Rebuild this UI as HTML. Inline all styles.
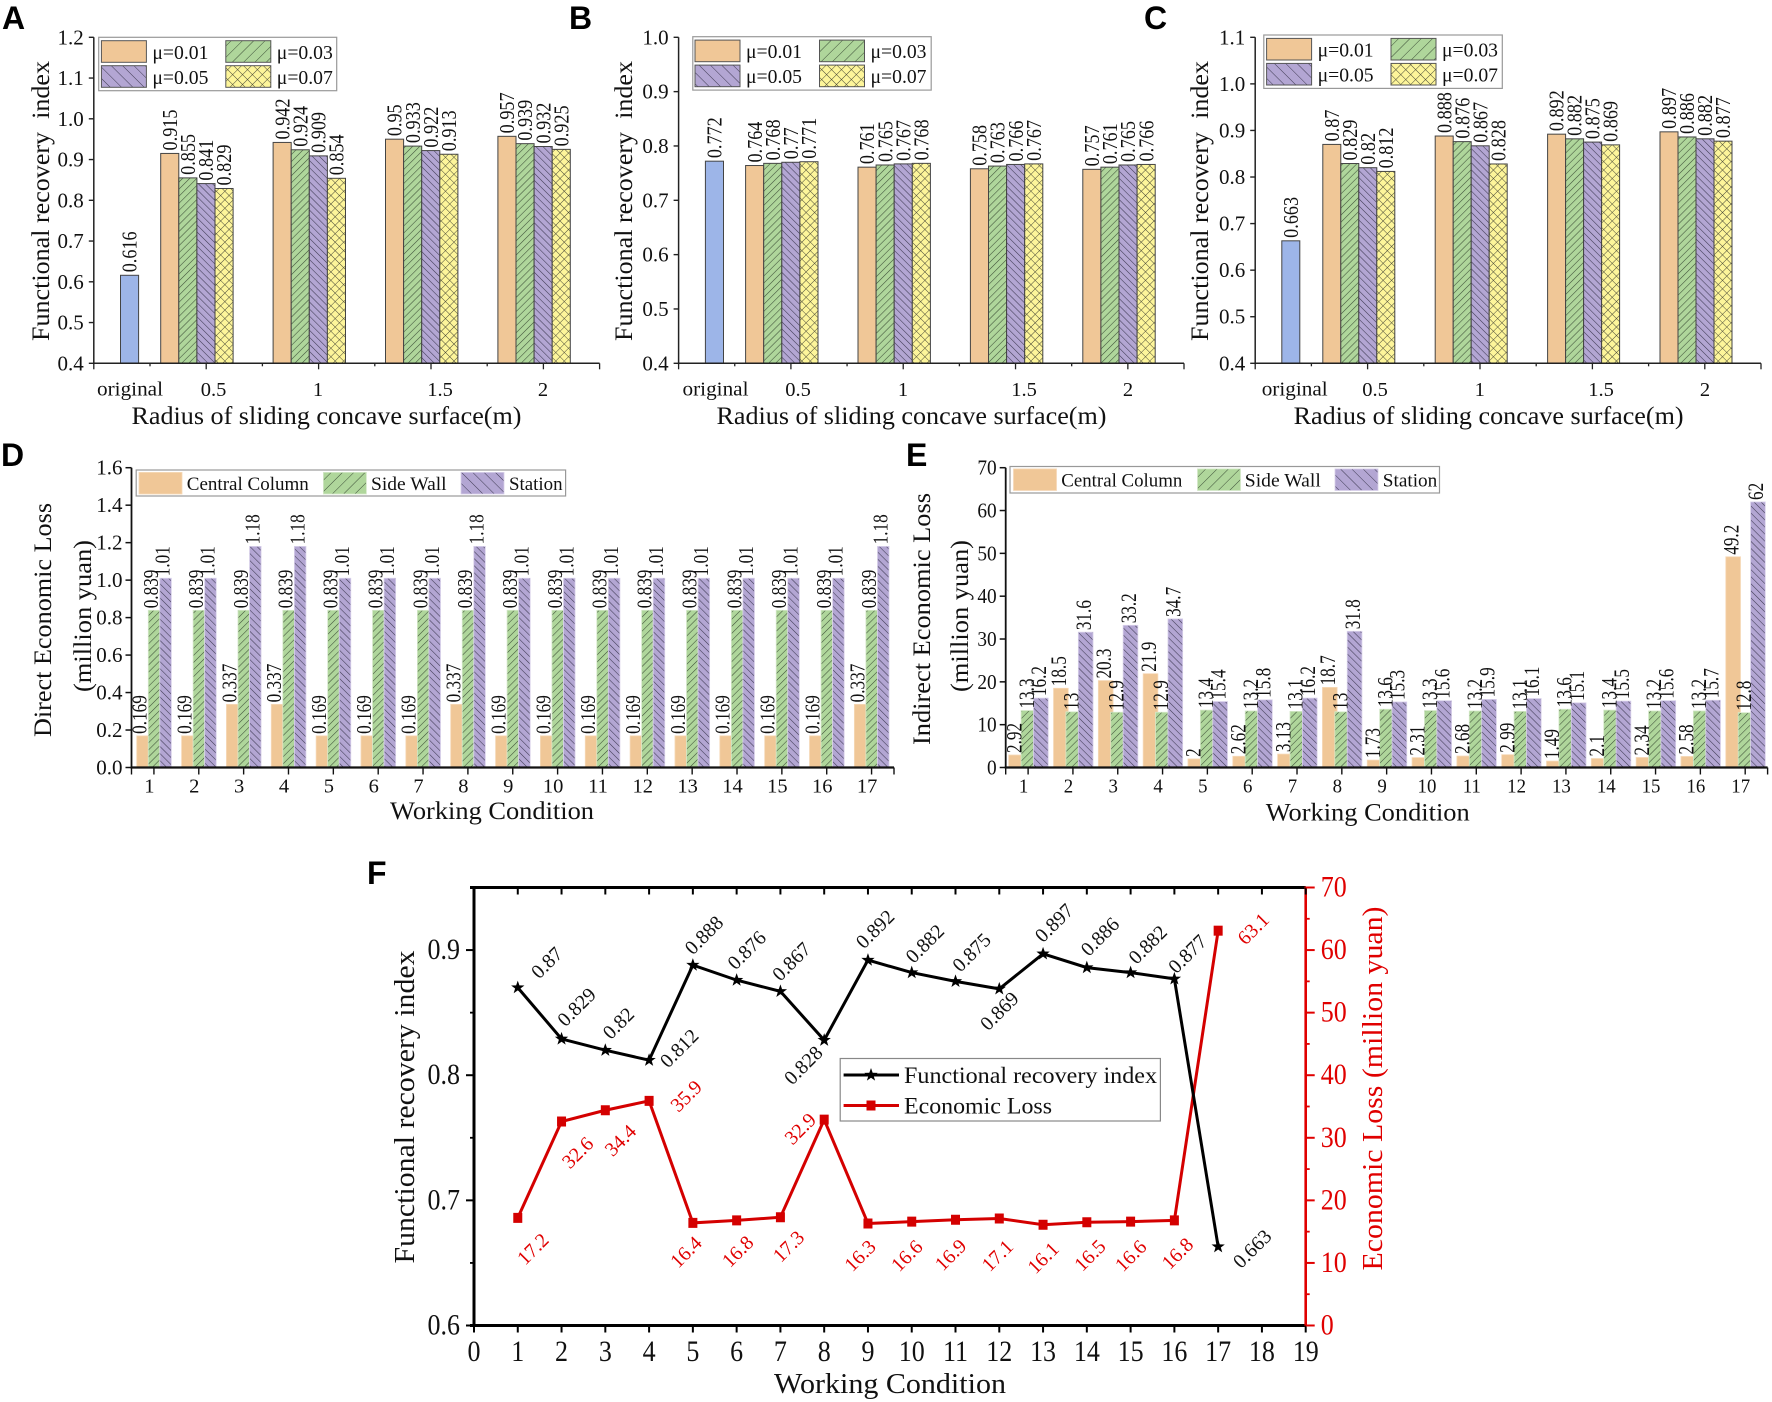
<!DOCTYPE html>
<html lang="en">
<head>
<meta charset="utf-8">
<title>Functional recovery and economic loss charts</title>
<style>
html,body{margin:0;padding:0;background:#fff;}
svg{display:block;font-family:"Liberation Serif",serif;}
.letter{font-family:"Liberation Sans",sans-serif;font-weight:700;font-size:32px;fill:#000;}
</style>
</head>
<body>
<svg id="figure" xmlns="http://www.w3.org/2000/svg" width="1772" height="1402" viewBox="0 0 1772 1402">
<defs>
<pattern id="hG" patternUnits="userSpaceOnUse" width="5" height="5" patternTransform="rotate(45)"><rect width="5" height="5" fill="#afd69b"/><line x1="0" y1="0" x2="0" y2="5" stroke="#3d4f38" stroke-width="1.1"/></pattern>
<pattern id="hP" patternUnits="userSpaceOnUse" width="5" height="5" patternTransform="rotate(-45)"><rect width="5" height="5" fill="#b3a6d3"/><line x1="0" y1="0" x2="0" y2="5" stroke="#3e3a52" stroke-width="1.1"/></pattern>
<pattern id="hY" patternUnits="userSpaceOnUse" width="6" height="6" patternTransform="rotate(45)"><rect width="6" height="6" fill="#fdf59a"/><line x1="0" y1="0" x2="0" y2="6" stroke="#4a4a38" stroke-width="1"/><line x1="0" y1="0" x2="6" y2="0" stroke="#4a4a38" stroke-width="1"/></pattern>
<pattern id="lG" patternUnits="userSpaceOnUse" width="8" height="8" patternTransform="rotate(45)"><rect width="8" height="8" fill="#afd69b"/><line x1="0" y1="0" x2="0" y2="8" stroke="#3d4f38" stroke-width="1"/></pattern>
<pattern id="lP" patternUnits="userSpaceOnUse" width="8" height="8" patternTransform="rotate(-45)"><rect width="8" height="8" fill="#b3a6d3"/><line x1="0" y1="0" x2="0" y2="8" stroke="#3e3a52" stroke-width="1"/></pattern>
<pattern id="lY" patternUnits="userSpaceOnUse" width="7" height="7" patternTransform="rotate(45)"><rect width="7" height="7" fill="#fdf59a"/><line x1="0" y1="0" x2="0" y2="7" stroke="#4a4a38" stroke-width="1"/><line x1="0" y1="0" x2="7" y2="0" stroke="#4a4a38" stroke-width="1"/></pattern>
</defs>
<text class="letter" x="2" y="29">A</text>
<text class="letter" x="569" y="29">B</text>
<text class="letter" x="1144" y="29">C</text>
<text class="letter" x="1" y="466">D</text>
<text class="letter" x="906" y="466">E</text>
<text class="letter" x="367" y="884">F</text>
</svg>
<script>
/* ---------- chart data ---------- */
const groupLabels = ['0.5', '1', '1.5', '2'];
const muLabels = ['μ=0.01', 'μ=0.03', 'μ=0.05', 'μ=0.07'];
const conditionLabels = ['1','2','3','4','5','6','7','8','9','10','11','12','13','14','15','16','17'];
const lossLegendLabels = ['Central Column', 'Side Wall', 'Station'];

const aTicks = [0.4,0.5,0.6,0.7,0.8,0.9,1.0,1.1,1.2];
const aOriginal = 0.616;
const aMu01 = [0.915,0.942,0.95,0.957];
const aMu03 = [0.855,0.924,0.933,0.939];
const aMu05 = [0.841,0.909,0.922,0.932];
const aMu07 = [0.829,0.854,0.913,0.925];

const bTicks = [0.4,0.5,0.6,0.7,0.8,0.9,1.0];
const bOriginal = 0.772;
const bMu01 = [0.764,0.761,0.758,0.757];
const bMu03 = [0.768,0.765,0.763,0.761];
const bMu05 = [0.77,0.767,0.766,0.765];
const bMu07 = [0.771,0.768,0.767,0.766];

const cTicks = [0.4,0.5,0.6,0.7,0.8,0.9,1.0,1.1];
const cOriginal = 0.663;
const cMu01 = [0.87,0.888,0.892,0.897];
const cMu03 = [0.829,0.876,0.882,0.886];
const cMu05 = [0.82,0.867,0.875,0.882];
const cMu07 = [0.812,0.828,0.869,0.877];

const dTicks = [0,0.2,0.4,0.6,0.8,1.0,1.2,1.4,1.6];
const dCentral = [0.169,0.169,0.337,0.337,0.169,0.169,0.169,0.337,0.169,0.169,0.169,0.169,0.169,0.169,0.169,0.169,0.337];
const dSide = [0.839,0.839,0.839,0.839,0.839,0.839,0.839,0.839,0.839,0.839,0.839,0.839,0.839,0.839,0.839,0.839,0.839];
const dStation = [1.01,1.01,1.18,1.18,1.01,1.01,1.01,1.18,1.01,1.01,1.01,1.01,1.01,1.01,1.01,1.01,1.18];

const eTicks = [0,10,20,30,40,50,60,70];
const eCentral = [2.92,18.5,20.3,21.9,2,2.62,3.13,18.7,1.73,2.31,2.68,2.99,1.49,2.1,2.34,2.58,49.2];
const eSide = [13.3,13,12.9,12.9,13.4,13.2,13.1,13,13.6,13.3,13.2,13.1,13.6,13.4,13.2,13.2,12.8];
const eStation = [16.2,31.6,33.2,34.7,15.4,15.8,16.2,31.8,15.3,15.6,15.9,16.1,15.1,15.5,15.6,15.7,62];

const fConditions = [1,2,3,4,5,6,7,8,9,10,11,12,13,14,15,16,17];
const fRecovery = [0.87,0.829,0.82,0.812,0.888,0.876,0.867,0.828,0.892,0.882,0.875,0.869,0.897,0.886,0.882,0.877,0.663];
const fLoss = [17.2,32.6,34.4,35.9,16.4,16.8,17.3,32.9,16.3,16.6,16.9,17.1,16.1,16.5,16.6,16.8,63.1];
const fXTicks = [0,1,2,3,4,5,6,7,8,9,10,11,12,13,14,15,16,17,18,19];
const fLeftTicks = ['0.6','0.7','0.8','0.9'];
const fRightTicks = [0,10,20,30,40,50,60,70];

/* ---------- label placement (layout only, not data) ---------- */
const recoveryLabelNudge = [[29,-25],[15,-32],[13,-27],[30,-12],[11,-30],[10,-30],[11,-30],[-21,25],[7,-31],[13,-29],[16,-29],[0,22],[11,-31],[13,-31],[17,-28],[13,-25],[34,2]];
const lossLabelNudge = [[15,31],[16,31],[15,30],[37,-5],[-7,29],[1,31],[8,29],[-24,9],[-8,32],[-5,34],[-5,35],[-2,37],[0,33],[3,33],[0,34],[3,33],[35,-2]];

/* ---------- helpers ---------- */
const NS = 'http://www.w3.org/2000/svg';
const svg = document.getElementById('figure');
function make(tag, props, parent) {
  const n = document.createElementNS(NS, tag);
  for (const k in props) n.setAttribute(k, props[k]);
  parent.appendChild(n);
  return n;
}
function label(parent, str, x, y, o) {
  o = o || {};
  const size = o.size || 20, rot = o.rot || 0, sx = o.sx || 1, sy = o.sy || 1;
  const n = make('text', {
    'font-size': size,
    'fill': o.fill || '#111',
    'text-anchor': o.anchor || 'middle',
    'x': 0,
    'y': o.centerY ? (0.338 * size).toFixed(2) : 0,
    'transform': 'translate(' + x.toFixed(2) + ' ' + y.toFixed(2) + ') rotate(' + rot + ') scale(' + sx + ' ' + sy + ')'
  }, parent);
  if (o.len) { n.setAttribute('textLength', o.len); n.setAttribute('lengthAdjust', 'spacingAndGlyphs'); }
  n.textContent = str;
  return n;
}
function scale(domainMin, domainMax, pxMin, pxMax) {
  return function (v) { return pxMin + (v - domainMin) / (domainMax - domainMin) * (pxMax - pxMin); };
}
function seg(parent, x1, y1, x2, y2, color, w) {
  return make('line', {x1: x1, y1: y1, x2: x2, y2: y2, stroke: color, 'stroke-width': w}, parent);
}

/* ---------- panels A, B, C ---------- */
const barFills = ['#f0c797', 'url(#hG)', 'url(#hP)', 'url(#hY)'];
const swatchFills = ['#f0c797', 'url(#lG)', 'url(#lP)', 'url(#lY)'];

function groupedPanel(c) {
  const g = make('g', {}, svg);
  
  
  const y = scale(c.ticks[0], c.ticks[c.ticks.length - 1], c.bottom, c.top);

  /* original bar */
  const orig = make('rect', {x: c.origX, y: y(c.original), width: c.barW, height: c.bottom - y(c.original), fill: '#9db5e8', stroke: '#444', 'stroke-width': 1}, g);
  
  
  const origText = label(g, String(c.original), c.origX + c.barW / 2, y(c.original) - 3, {rot: -90, anchor: 'start', centerY: true, sx: 0.91, sy: 1.05});
  
  

  /* grouped bars */
  c.series.forEach(function (values, s) {
    values.forEach(function (v, i) {
      const bx = c.groupStart + i * c.groupStep + s * c.barW;
      const r = make('rect', {x: bx, y: y(v), width: c.barW, height: c.bottom - y(v), fill: barFills[s], stroke: '#444', 'stroke-width': 1}, g);
      
      
      const t = label(g, String(v), bx + c.barW / 2, y(v) - 3, {rot: -90, anchor: 'start', centerY: true, sx: 0.91, sy: 1.05});
      
      
    });
  });

  /* axes */
  const yAxis = seg(g, c.left, c.top, c.left, c.bottom + 1, '#222', 1.5);
  
  
  const xAxis = seg(g, c.left, c.bottom, c.right, c.bottom, '#222', 1.5);
  
  
  c.ticks.forEach(function (v) {
    const tk = seg(g, c.left - 5, y(v), c.left, y(v), '#222', 1.4);
    
    
    const t = label(g, v.toFixed(1), c.left - 10, y(v) + 7, {anchor: 'end', size: 21});
    
    
  });
  const half = (c.right - c.left) / 9;
  for (let k = 0; k <= 9; k++) {
    const long = k % 2 === 0 || k === 9;
    const tk = seg(g, c.left + k * half, c.bottom, c.left + k * half, c.bottom + (long ? 6 : 3), '#222', 1.3);
    
    
  }
  const ot = label(g, 'original', c.origLabelX, 395.5, {size: 20, len: 66});
  
  
  groupLabels.forEach(function (lab, i) {
    const t = label(g, lab, c.labelX[i], 396, {size: 20.5});
    
    
  });
  const xt = label(g, 'Radius of sliding concave surface(m)', c.titleX, 424, {size: 25, len: 390});
  
  
  const yt = label(g, 'Functional recovery\u00a0 index', c.yTitleX, 201, {size: 25, rot: -90, len: 280});
  
  

  /* legend */
  const box = make('rect', {x: c.legX, y: c.legY, width: c.legW, height: 53.4, fill: '#fff', stroke: '#999', 'stroke-width': 1.2}, g);
  
  
  muLabels.forEach(function (lab, i) {
    const col = i % 2, row = i < 2 ? 0 : 1;
    const sw = make('rect', {x: c.legSwX[col], y: c.legY + 3.4 + row * 25, width: 45, height: 21.6, fill: swatchFills[i], stroke: '#555', 'stroke-width': 1}, g);
    
    
    const t = label(g, lab, c.legSwX[col] + 51, c.legY + 21.5 + row * 25, {anchor: 'start', size: 19.5, len: 56});
    
    
  });
}

groupedPanel({name:'panel-a-chart', ticks:aTicks, original:aOriginal, series:[aMu01,aMu03,aMu05,aMu07], left:93.8, right:599.6, top:37.3, bottom:363.3,
  origX:120.5, barW:18.1, groupStart:160.7, groupStep:112.4, origLabelX:130, labelX:[213.5,318,440,543], titleX:326.5, yTitleX:49,
  legX:98.7, legY:37.3, legW:238, legSwX:[101.4,225.8]});
groupedPanel({name:'panel-b-chart', ticks:bTicks, original:bOriginal, series:[bMu01,bMu03,bMu05,bMu07], left:678.6, right:1184, top:37.3, bottom:363.3,
  origX:705.4, barW:18.1, groupStart:745.6, groupStep:112.4, origLabelX:715.5, labelX:[798,903,1024,1128], titleX:911.5, yTitleX:632,
  legX:692.8, legY:36.7, legW:238.4, legSwX:[695,819.5]});
groupedPanel({name:'panel-c-chart', ticks:cTicks, original:cOriginal, series:[cMu01,cMu03,cMu05,cMu07], left:1255.2, right:1761, top:37.3, bottom:363.3,
  origX:1281.8, barW:18, groupStart:1322.8, groupStep:112.4, origLabelX:1294.7, labelX:[1375,1479.7,1601,1705], titleX:1488.6, yTitleX:1208,
  legX:1263.8, legY:35, legW:238.5, legSwX:[1266.6,1391]});

/* ---------- panels D, E ---------- */
const lossFills = ['#f0c797', 'url(#hG)', 'url(#hP)'];
const lossEdges = ['#f6d9b8', '#d4e8c8', '#d8d0ea'];
const lossSwatch = ['#f0c797', 'url(#lG)', 'url(#lP)'];

function lossPanel(c) {
  const g = make('g', {}, svg);
  
  
  const y = scale(c.ticks[0], c.ticks[c.ticks.length - 1], c.bottom, c.top);
  const band = (c.right - c.left) / conditionLabels.length;
  const x = function (i) { return c.left + (i + 0.5) * band; };

  c.series.forEach(function (values, s) {
    values.forEach(function (v, i) {
      const bx = x(i) + c.barOffset + s * c.barStep;
      const r = make('rect', {x: bx, y: y(v), width: c.barW, height: c.bottom - y(v), fill: lossFills[s], stroke: lossEdges[s], 'stroke-width': 0.8}, g);
      
      
    });
  });
  c.series.forEach(function (values, s) {
    values.forEach(function (v, i) {
      const bx = x(i) + c.barOffset + s * c.barStep;
      const t = label(g, String(v), bx + c.barStep / 2 + c.textShift, y(v) - 2, {rot: -90, anchor: 'start', centerY: true, sx: c.valueSx, sy: c.valueSy});
      
      
    });
  });

  const yAxis = seg(g, c.left, c.top, c.left, c.bottom + 1, '#111', 1.8);
  
  
  const xAxis = seg(g, c.left - 1, c.bottom, c.right, c.bottom, '#111', 2.2);
  
  
  c.ticks.forEach(function (v) {
    const tk = seg(g, c.left - 6, y(v), c.left, y(v), '#111', 1.5);
    
    
    const t = label(g, c.tickFmt(v), c.left - 9, y(v) + 7, {anchor: 'end', size: c.tickSize, sx: c.tickSx});
    
    
  });
  [c.left, c.right].forEach(function (px) {
    const tk = seg(g, px, c.bottom, px, c.bottom + 7, '#111', 1.4);
    
    
  });
  conditionLabels.forEach(function (lab, i) {
    const tk = seg(g, x(i), c.bottom, x(i), c.bottom + 7, '#111', 1.4);
    
    
    const t = label(g, lab, x(i) - 4.5, 792.5, {size: 20.5, sx: c.tickSx});
    
    
  });
  const xt = label(g, 'Working Condition', c.xTitleX, c.xTitleY, {size: 25, len: 204});
  
  
  const y1 = label(g, c.yTitle, c.yTitleX, c.yTitleMid, {size: 25, rot: -90, len: c.yTitleLen});
  
  
  const y2 = label(g, '(million yuan)', c.yUnitX, 616, {size: 25, rot: -90, len: 152});
  
  

  const box = make('rect', {x: c.legX, y: c.legY, width: c.legW, height: c.legH, fill: '#fff', stroke: '#999', 'stroke-width': 1.2}, g);
  
  
  lossLegendLabels.forEach(function (lab, i) {
    const sw = make('rect', {x: c.legSwX[i], y: c.legY + 2.4, width: 43, height: 21.6, fill: lossSwatch[i], stroke: lossEdges[i], 'stroke-width': 0.8}, g);
    
    
    const t = label(g, lab, c.legTextX[i], c.legY + 20, {anchor: 'start', size: 19, len: c.legTextW[i]});
    
    
  });
}

lossPanel({name:'panel-d-chart', ticks:dTicks, series:[dCentral,dSide,dStation], tickFmt:function(v){return v.toFixed(1);},
  left:131.5, right:894, top:467.7, bottom:767.5, barW:11.55, barStep:11.55, barOffset:-17.2, textShift:-3, valueSx:0.86, valueSy:1.05, tickSize:21, tickSx:1,
  xTitleX:492, xTitleY:819, yTitle:'Direct Economic Loss', yTitleX:51, yTitleMid:620, yTitleLen:234, yUnitX:91,
  legX:136.2, legY:470, legW:429.4, legH:26, legSwX:[139,323.4,461], legTextX:[186.8,371,509], legTextW:[122,75.6,53.6]});
lossPanel({name:'panel-e-chart', ticks:eTicks, series:[eCentral,eSide,eStation], tickFmt:function(v){return String(v);},
  left:1005.7, right:1767.6, top:467.7, bottom:767.5, barW:14.7, barStep:12.4, barOffset:-19.4, textShift:-1, valueSx:0.86, valueSy:1.1, tickSize:21, tickSx:0.92,
  xTitleX:1367.7, xTitleY:820.7, yTitle:'Indirect Economic Loss', yTitleX:930, yTitleMid:619, yTitleLen:252, yUnitX:968,
  legX:1010, legY:466.5, legW:429.5, legH:26.5, legSwX:[1013.5,1197.5,1335], legTextX:[1061.3,1244.8,1382.8], legTextW:[121,76,54.5]});

/* ---------- panel F ---------- */
(function () {
  const g = make('g', {}, svg);
  
  
  const L = 474, R = 1305.7, T = 887.5, B = 1325.5;
  const x = scale(0, 19, L, R);
  const yLeft = scale(0.6, 0.95, B, T);
  const yRight = scale(0, 70, B, T);
  const RED = '#e00000';

  /* frame */
  const top = seg(g, L - 4, T, R, T, '#000', 3);
  
  
  const bottom = seg(g, L - 4, B, R, B, '#000', 3);
  
  
  const left = seg(g, L, T - 1, L, B + 1, '#000', 3);
  
  
  const right = seg(g, R, T - 1, R, B + 1, RED, 2.6);
  
  

  fXTicks.forEach(function (v) {
    const t1 = seg(g, x(v), T, x(v), T + 7, '#000', 2);
    
    
    const t2 = seg(g, x(v), B, x(v), B + 7, '#000', 2);
    
    
    const t = label(g, String(v), x(v), 1361, {size: 26, sy: 1.12});
    
    
  });
  fLeftTicks.forEach(function (s) {
    const v = Number(s);
    const tk = seg(g, L - 8, yLeft(v), L, yLeft(v), '#000', 2);
    
    
    const m = seg(g, L - 4, yLeft(v + 0.05), L, yLeft(v + 0.05), '#000', 1.8);
    
    
    const t = label(g, s, L - 14, yLeft(v) + 9, {anchor: 'end', size: 26, sy: 1.12});
    
    
  });
  fRightTicks.forEach(function (v) {
    const tk = seg(g, R, yRight(v), R + 9, yRight(v), RED, 2);
    
    
    if (v < 70) {
      const m = seg(g, R, yRight(v + 5), R + 4, yRight(v + 5), RED, 1.8);
      
      
    }
    const t = label(g, String(v), R + 15, yRight(v) + 9, {anchor: 'start', size: 26, sy: 1.12, fill: RED});
    
    
  });

  /* series */
  function starPoints(cx, cy, r) {
    const out = [];
    for (let k = 0; k < 10; k++) {
      const rad = k % 2 === 0 ? r : r * 0.4;
      const a = -Math.PI / 2 + k * Math.PI / 5;
      out.push((cx + rad * Math.cos(a)).toFixed(2) + ',' + (cy + rad * Math.sin(a)).toFixed(2));
    }
    return out.join(' ');
  }
  const lossLine = make('polyline', {fill: 'none', stroke: '#d40000', 'stroke-width': 3, 'stroke-linejoin': 'miter',
    points: fConditions.map(function (c, i) { return x(c).toFixed(2) + ',' + yRight(fLoss[i]).toFixed(2); }).join(' ')}, g);
  
  
  const recLine = make('polyline', {fill: 'none', stroke: '#000', 'stroke-width': 3, 'stroke-linejoin': 'miter',
    points: fConditions.map(function (c, i) { return x(c).toFixed(2) + ',' + yLeft(fRecovery[i]).toFixed(2); }).join(' ')}, g);
  
  

  fConditions.forEach(function (c, i) {
    const sq = make('rect', {x: x(c) - 4.5, y: yRight(fLoss[i]) - 5, width: 9, height: 10, fill: '#d40000'}, g);
    
    
    const st = make('polygon', {points: starPoints(x(c), yLeft(fRecovery[i]), 7), fill: '#000'}, g);
    
    
    const a = recoveryLabelNudge[i];
    const t1 = label(g, String(fRecovery[i]), x(c) + a[0], yLeft(fRecovery[i]) + a[1], {rot: -45, centerY: true, size: 20});
    
    
    const b = lossLabelNudge[i];
    const t2 = label(g, String(fLoss[i]), x(c) + b[0], yRight(fLoss[i]) + b[1], {rot: -45, centerY: true, size: 20, fill: RED});
    
    
  });

  /* titles */
  const xt = label(g, 'Working Condition', 890, 1393, {size: 28, len: 232});
  
  
  const lt = label(g, 'Functional recovery index', 414, 1107, {size: 28, rot: -90, len: 313});
  
  
  const rt = label(g, 'Economic Loss (million yuan)', 1382, 1088.5, {size: 28, rot: -90, len: 364, fill: RED});
  
  

  /* legend */
  const box = make('rect', {x: 840.2, y: 1058.5, width: 320.2, height: 62.5, fill: '#fff', stroke: '#888', 'stroke-width': 1.2}, g);
  
  
  const s1 = seg(g, 843.6, 1075, 899, 1075, '#000', 3);
  
  
  const m1 = make('polygon', {points: starPoints(871, 1075, 7), fill: '#000'}, g);
  
  
  const t1 = label(g, 'Functional recovery index', 904, 1083, {anchor: 'start', size: 23, len: 253});
  
  
  const s2 = seg(g, 843.6, 1105.5, 899, 1105.5, '#d40000', 3);
  
  
  const m2 = make('rect', {x: 866.5, y: 1100.5, width: 9, height: 10, fill: '#d40000'}, g);
  
  
  const t2 = label(g, 'Economic Loss', 904, 1113.5, {anchor: 'start', size: 23, len: 148});
  
  
})();
</script>
</body>
</html>
